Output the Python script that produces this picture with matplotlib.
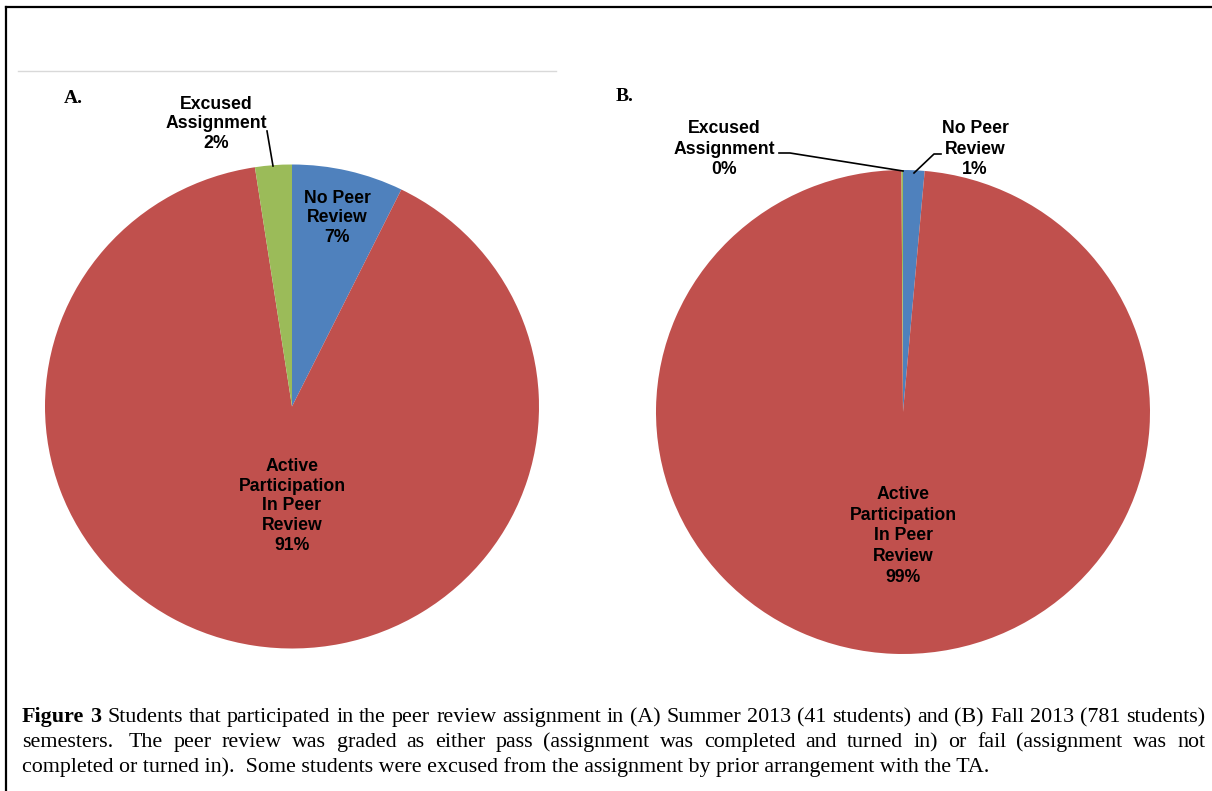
import matplotlib
matplotlib.use("Agg")
import matplotlib.pyplot as plt
from matplotlib.lines import Line2D

W, H = 1212, 791
DPI = 100

# ---------------- data ----------------
categories = ["No Peer\nReview", "Active\nParticipation\nIn Peer\nReview", "Excused\nAssignment"]
values_a = [7.3, 90.3, 2.4]
labels_a = ["7%", "91%", "2%"]
values_b = [1.4, 98.5, 0.1]
labels_b = ["1%", "99%", "0%"]
colors = ["#4F81BD", "#C0504D", "#9BBB59"]

caption_lines = [
    [("Figure 3", True), ("Students that participated in the peer review assignment in (A) Summer 2013 (41 students) and (B) Fall 2013 (781 students)", False)],
    [("semesters.  The peer review was graded as either pass (assignment was completed and turned in) or fail (assignment was not", False)],
    [("completed or turned in).  Some students were excused from the assignment by prior arrangement with the TA.", False)],
]

fig = plt.figure(figsize=(W / DPI, H / DPI), dpi=DPI)
fig.patch.set_facecolor("white")


def px(x, y):
    return x / W, 1 - y / H


# frame lines (left and top)
fig.add_artist(Line2D([6 / W, 6 / W], [0, 1 - 7 / H], color="black", lw=1.6, transform=fig.transFigure))
fig.add_artist(Line2D([6 / W, 1], [1 - 7 / H, 1 - 7 / H], color="black", lw=1.6, transform=fig.transFigure))
# light gray rule
fig.add_artist(Line2D([18 / W, 556 / W], [1 - 70.5 / H, 1 - 70.5 / H], color="#d9d9d9", lw=1.0,
                      transform=fig.transFigure))

LBL_A = dict(family="Liberation Sans", fontweight="bold", fontsize=12.7, color="black",
             ha="center", va="center", linespacing=1.2)
LBL_B = dict(LBL_A, linespacing=1.28)


def make_pie(cx, cy, rx, ry, values):
    ax = fig.add_axes([(cx - rx) / W, (H - cy - ry) / H, 2 * rx / W, 2 * ry / H])
    ax.pie(values, colors=colors, startangle=90, counterclock=False, radius=1,
           wedgeprops=dict(linewidth=0))
    ax.set_xlim(-1, 1)
    ax.set_ylim(-1, 1)
    ax.set_aspect("auto")
    ax.axis("off")

    def d(x, y):
        return (x - cx) / rx, (cy - y) / ry
    return ax, d


# ---- Pie A ----
axA, dA = make_pie(292, 406.5, 247, 242, values_a)
axA.text(*dA(337, 218), categories[0] + "\n" + labels_a[0], **LBL_A)
axA.text(*dA(292, 506), categories[1] + "\n" + labels_a[1], **LBL_A)
axA.text(*dA(216, 124), categories[2] + "\n" + labels_a[2], clip_on=False, **LBL_A)
xs, ys = zip(dA(267, 131), dA(273, 166))
axA.plot(xs, ys, color="black", lw=1.2, clip_on=False)

# ---- Pie B ----
axB, dB = make_pie(903, 412, 247, 242, values_b)
axB.text(*dB(975, 149), categories[0] + "\n" + labels_b[0], clip_on=False, **LBL_B)
axB.text(*dB(903, 536), categories[1] + "\n" + labels_b[1], **LBL_B)
axB.text(*dB(724, 149), categories[2] + "\n" + labels_b[2], clip_on=False, **LBL_B)
xs, ys = zip(dB(779, 153), dB(790, 153), dB(903, 171))
axB.plot(xs, ys, color="black", lw=1.2, clip_on=False)
xs, ys = zip(dB(941, 154), dB(934, 154), dB(914, 173))
axB.plot(xs, ys, color="black", lw=1.2, clip_on=False)

# panel letters
fig.text(*px(64, 103), "A.", family="Liberation Serif", fontweight="bold", fontsize=14, va="baseline")
fig.text(*px(616, 101), "B.", family="Liberation Serif", fontweight="bold", fontsize=14, va="baseline")

# ---------------- caption (justified) ----------------
CAP_SIZE = 15.85
renderer = fig.canvas.get_renderer()
baselines = [722, 747, 772]
left, right = 22, 1205


def word_width(w, bold):
    t = fig.text(0, 0, w, family="Liberation Serif", fontsize=CAP_SIZE,
                 fontweight="bold" if bold else "normal")
    bb = t.get_window_extent(renderer)
    t.remove()
    return bb.width


space_w = word_width("a a", False) - 2 * word_width("a", False)

for li, line in enumerate(caption_lines):
    justify = li < len(caption_lines) - 1
    if not justify:
        fig.text(*px(left, baselines[li]), line[0][0], family="Liberation Serif", fontsize=CAP_SIZE,
                 va="baseline", ha="left")
        continue
    words = []
    extra = []
    for chunk, bold in line:
        toks = chunk.split(" ")
        for i, w in enumerate(toks):
            if w:
                words.append((w, bold))
                extra.append(0.0)
            elif words:
                extra[-1] += space_w
    widths = [word_width(w, b) for w, b in words]
    gap = (right - left - sum(widths) - sum(extra[:-1])) / (len(words) - 1)
    x = left
    for (w, b), wd, ex in zip(words, widths, extra):
        fig.text(*px(x, baselines[li]), w, family="Liberation Serif", fontsize=CAP_SIZE,
                 fontweight="bold" if b else "normal", va="baseline", ha="left")
        x += wd + gap + ex

fig.savefig("out.png", dpi=DPI)
